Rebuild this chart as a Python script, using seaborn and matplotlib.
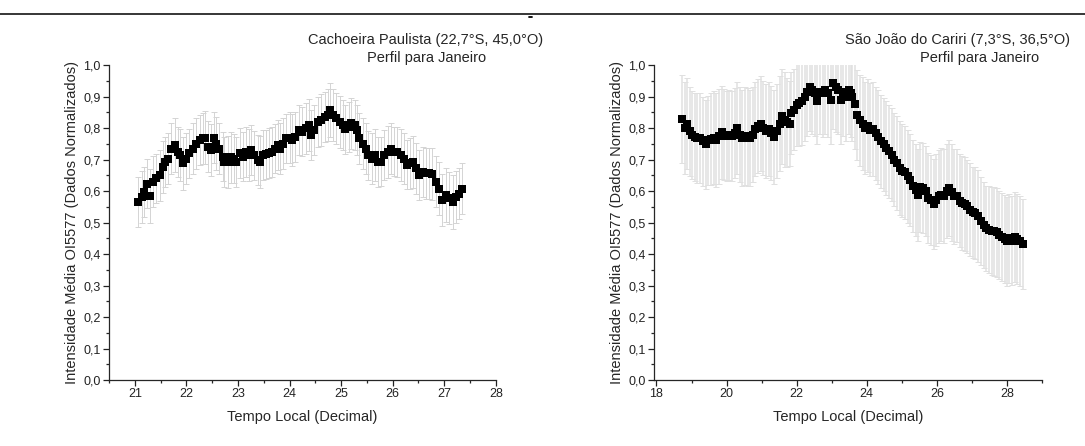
import numpy as np
import pandas as pd
import matplotlib
matplotlib.use("Agg")
import matplotlib.pyplot as plt
from matplotlib.ticker import MultipleLocator, FuncFormatter
from matplotlib.lines import Line2D
import seaborn as sns

# Cachoeira Paulista - January mean profile
cp_time = [21.06, 21.13, 21.17, 21.23, 21.29, 21.35, 21.42, 21.48, 21.54, 21.59,
           21.64, 21.71, 21.77, 21.84, 21.87, 21.93, 22.00, 22.06, 22.13, 22.19,
           22.26, 22.32, 22.37, 22.42, 22.48, 22.53, 22.58, 22.63, 22.70, 22.73,
           22.80, 22.87, 22.93, 22.97, 23.03, 23.09, 23.16, 23.22, 23.26, 23.32,
           23.39, 23.43, 23.48, 23.55, 23.61, 23.66, 23.71, 23.77, 23.82, 23.87,
           23.93, 24.00, 24.05, 24.11, 24.18, 24.24, 24.31, 24.37, 24.42, 24.48,
           24.55, 24.61, 24.68, 24.74, 24.79, 24.84, 24.90, 24.97, 25.03, 25.08,
           25.15, 25.19, 25.26, 25.30, 25.35, 25.42, 25.48, 25.53, 25.60, 25.66,
           25.71, 25.77, 25.84, 25.90, 25.97, 26.03, 26.09, 26.16, 26.22, 26.27,
           26.33, 26.40, 26.45, 26.51, 26.58, 26.64, 26.71, 26.77, 26.84, 26.90,
           26.96, 27.03, 27.09, 27.16, 27.22, 27.29, 27.35]
cp_mean = [0.566, 0.582, 0.598, 0.624, 0.585, 0.630, 0.640, 0.650, 0.677, 0.693,
           0.703, 0.735, 0.746, 0.725, 0.714, 0.688, 0.703, 0.720, 0.735, 0.751,
           0.762, 0.767, 0.770, 0.741, 0.730, 0.770, 0.751, 0.735, 0.709, 0.693,
           0.693, 0.707, 0.703, 0.693, 0.720, 0.709, 0.725, 0.714, 0.730, 0.714,
           0.698, 0.693, 0.714, 0.717, 0.720, 0.725, 0.735, 0.746, 0.735, 0.751,
           0.767, 0.770, 0.762, 0.772, 0.794, 0.788, 0.799, 0.810, 0.778, 0.794,
           0.820, 0.825, 0.836, 0.841, 0.857, 0.841, 0.831, 0.820, 0.810, 0.796,
           0.804, 0.815, 0.810, 0.794, 0.767, 0.751, 0.735, 0.714, 0.703, 0.714,
           0.693, 0.693, 0.714, 0.725, 0.735, 0.725, 0.725, 0.714, 0.703, 0.683,
           0.688, 0.693, 0.672, 0.651, 0.661, 0.656, 0.656, 0.654, 0.630, 0.608,
           0.571, 0.587, 0.577, 0.566, 0.582, 0.592, 0.608]
cp_err = [0.080, 0.082, 0.080, 0.078, 0.085, 0.080, 0.078, 0.080, 0.082, 0.080,
          0.080, 0.082, 0.085, 0.080, 0.082, 0.085, 0.080, 0.078, 0.080, 0.082,
          0.080, 0.082, 0.085, 0.080, 0.082, 0.080, 0.085, 0.080, 0.078, 0.080,
          0.082, 0.080, 0.078, 0.080, 0.080, 0.078, 0.080, 0.082, 0.080, 0.078,
          0.080, 0.082, 0.080, 0.078, 0.080, 0.080, 0.078, 0.080, 0.082, 0.080,
          0.078, 0.080, 0.082, 0.080, 0.080, 0.078, 0.080, 0.082, 0.080, 0.078,
          0.080, 0.082, 0.080, 0.082, 0.085, 0.082, 0.080, 0.082, 0.080, 0.078,
          0.080, 0.082, 0.080, 0.078, 0.080, 0.082, 0.080, 0.078, 0.080, 0.082,
          0.080, 0.078, 0.080, 0.082, 0.080, 0.078, 0.080, 0.082, 0.080, 0.078,
          0.080, 0.082, 0.080, 0.078, 0.080, 0.082, 0.080, 0.082, 0.080, 0.085,
          0.082, 0.085, 0.082, 0.085, 0.082, 0.080, 0.080]

# São João do Cariri - January mean profile
sjc_time = [18.74, 18.80, 18.87, 18.95, 19.02, 19.10, 19.17, 19.25, 19.33, 19.40,
            19.48, 19.55, 19.63, 19.71, 19.78, 19.86, 19.93, 20.01, 20.08, 20.16,
            20.24, 20.29, 20.37, 20.45, 20.52, 20.60, 20.67, 20.75, 20.82, 20.90,
            20.98, 21.05, 21.13, 21.20, 21.28, 21.36, 21.43, 21.51, 21.58, 21.66,
            21.73, 21.81, 21.85, 21.92, 22.00, 22.08, 22.15, 22.23, 22.30, 22.38,
            22.45, 22.53, 22.59, 22.66, 22.74, 22.82, 22.89, 22.97, 23.04, 23.12,
            23.19, 23.25, 23.33, 23.40, 23.48, 23.54, 23.59, 23.65, 23.73, 23.80,
            23.88, 23.95, 24.03, 24.10, 24.18, 24.26, 24.33, 24.41, 24.48, 24.56,
            24.64, 24.71, 24.79, 24.86, 24.94, 25.01, 25.09, 25.17, 25.24, 25.32,
            25.39, 25.45, 25.53, 25.60, 25.68, 25.75, 25.83, 25.91, 25.98, 26.06,
            26.13, 26.21, 26.28, 26.34, 26.42, 26.49, 26.57, 26.65, 26.72, 26.80,
            26.87, 26.95, 27.02, 27.10, 27.18, 27.25, 27.33, 27.40, 27.48, 27.56,
            27.63, 27.71, 27.78, 27.86, 27.93, 28.01, 28.07, 28.14, 28.22, 28.29,
            28.37, 28.45]
sjc_mean = [0.829, 0.800, 0.814, 0.790, 0.779, 0.772, 0.769, 0.769, 0.758, 0.748,
            0.761, 0.765, 0.769, 0.763, 0.774, 0.786, 0.779, 0.775, 0.779, 0.775,
            0.784, 0.800, 0.779, 0.769, 0.774, 0.772, 0.769, 0.779, 0.797, 0.807,
            0.814, 0.800, 0.790, 0.797, 0.784, 0.772, 0.790, 0.814, 0.837, 0.827,
            0.818, 0.814, 0.848, 0.859, 0.874, 0.879, 0.885, 0.900, 0.916, 0.932,
            0.922, 0.911, 0.885, 0.916, 0.913, 0.922, 0.911, 0.890, 0.943, 0.932,
            0.922, 0.890, 0.916, 0.900, 0.922, 0.913, 0.900, 0.878, 0.843, 0.825,
            0.814, 0.800, 0.807, 0.795, 0.797, 0.784, 0.772, 0.758, 0.748, 0.737,
            0.726, 0.715, 0.700, 0.689, 0.673, 0.665, 0.659, 0.647, 0.634, 0.615,
            0.604, 0.588, 0.613, 0.610, 0.600, 0.578, 0.572, 0.559, 0.572, 0.583,
            0.588, 0.585, 0.600, 0.610, 0.596, 0.583, 0.585, 0.570, 0.562, 0.559,
            0.551, 0.541, 0.532, 0.530, 0.521, 0.506, 0.493, 0.482, 0.477, 0.472,
            0.472, 0.469, 0.461, 0.454, 0.448, 0.440, 0.450, 0.443, 0.454, 0.448,
            0.440, 0.432]
sjc_err = [0.140, 0.147, 0.145, 0.142, 0.140, 0.140, 0.142, 0.142, 0.142, 0.140,
           0.142, 0.145, 0.148, 0.150, 0.150, 0.148, 0.145, 0.143, 0.143, 0.143,
           0.143, 0.145, 0.150, 0.152, 0.155, 0.155, 0.152, 0.150, 0.150, 0.150,
           0.150, 0.150, 0.150, 0.150, 0.150, 0.150, 0.150, 0.150, 0.150, 0.150,
           0.140, 0.135, 0.130, 0.130, 0.132, 0.135, 0.140, 0.140, 0.140, 0.140,
           0.140, 0.135, 0.135, 0.135, 0.140, 0.140, 0.140, 0.140, 0.145, 0.145,
           0.140, 0.140, 0.140, 0.140, 0.140, 0.140, 0.142, 0.143, 0.143, 0.145,
           0.147, 0.147, 0.148, 0.148, 0.148, 0.148, 0.148, 0.148, 0.148, 0.148,
           0.148, 0.148, 0.148, 0.148, 0.148, 0.148, 0.148, 0.148, 0.146, 0.146,
           0.146, 0.146, 0.143, 0.143, 0.143, 0.143, 0.143, 0.143, 0.145, 0.148,
           0.148, 0.150, 0.150, 0.153, 0.153, 0.150, 0.148, 0.148, 0.148, 0.148,
           0.148, 0.147, 0.146, 0.145, 0.145, 0.140, 0.137, 0.135, 0.138, 0.140,
           0.141, 0.141, 0.140, 0.140, 0.140, 0.140, 0.141, 0.142, 0.142, 0.143,
           0.143, 0.143]

YLABEL = "Intensidade Média OI5577 (Dados Normalizados)"
XLABEL = "Tempo Local (Decimal)"

sns.set_style("ticks")
plt.rcParams["font.family"] = ["Liberation Sans", "DejaVu Sans"]
plt.rcParams["axes.linewidth"] = 0.9

fig = plt.figure(figsize=(10.85, 4.46), dpi=100)
ax_l = fig.add_axes([0.1005, 0.148, 0.3565, 0.706])
ax_r = fig.add_axes([0.6028, 0.148, 0.3576, 0.706])

comma = FuncFormatter(lambda v, pos: f"{v:.1f}".replace(".", ","))


def draw_profile(ax, t, m, e, xlim, xmajor, xminor, bar_w, bar_c, msize):
    df = pd.DataFrame({"t": t, "m": m, "e": e})
    ax.errorbar(df["t"], df["m"], yerr=df["e"], fmt="none", ecolor=bar_c,
                elinewidth=bar_w, capsize=2.2, capthick=0.7, zorder=1)
    sns.scatterplot(data=df, x="t", y="m", ax=ax, marker="s", s=msize,
                    color="black", edgecolor="black", linewidth=0, zorder=3)
    ax.set_xlim(*xlim)
    ax.set_ylim(0.0, 1.0)
    ax.xaxis.set_major_locator(MultipleLocator(xmajor))
    ax.xaxis.set_minor_locator(MultipleLocator(xminor))
    ax.yaxis.set_major_locator(MultipleLocator(0.1))
    ax.yaxis.set_minor_locator(MultipleLocator(0.05))
    ax.yaxis.set_major_formatter(comma)
    ax.xaxis.set_major_formatter(FuncFormatter(lambda v, pos: f"{v:.0f}"))
    ax.tick_params(which="major", direction="out", length=4, width=0.9,
                   labelsize=9, colors="#222222", pad=2)
    ax.tick_params(which="minor", direction="out", length=2.5, width=0.9)
    for side in ("top", "right"):
        ax.spines[side].set_visible(False)
    ax.set_xlabel(XLABEL, fontsize=10.5, labelpad=7)
    ax.set_ylabel(YLABEL, fontsize=10.5, labelpad=3)


draw_profile(ax_l, cp_time, cp_mean, cp_err, (20.5, 28.0), 1, 0.5,
             0.7, "#d4d4d4", 30)
draw_profile(ax_r, sjc_time, sjc_mean, sjc_err, (17.93, 29.0), 2, 1,
             1.1, "#e0e0e0", 28)

fig.text(0.5005, 0.910, "Cachoeira Paulista (22,7°S, 45,0°O)", ha="right",
         va="center", fontsize=10.5)
fig.text(0.3935, 0.870, "Perfil para Janeiro", ha="center", va="center",
         fontsize=10.5)
fig.text(0.986, 0.910, "São João do Cariri (7,3°S, 36,5°O)", ha="right",
         va="center", fontsize=10.5)
fig.text(0.903, 0.870, "Perfil para Janeiro", ha="center", va="center",
         fontsize=10.5)

# page rule across the top
fig.add_artist(Line2D([0.0, 1.0], [1 - 14 / 446, 1 - 14 / 446],
                      transform=fig.transFigure, color="black", linewidth=1.1))
fig.add_artist(Line2D([529 / 1085, 532 / 1085], [1 - 17 / 446, 1 - 17 / 446],
                      transform=fig.transFigure, color="black", linewidth=1.3))

fig.savefig("out.png", dpi=100, facecolor="white")
